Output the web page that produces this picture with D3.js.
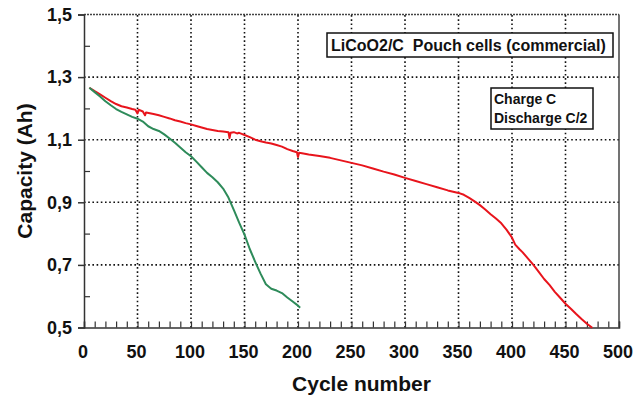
<!DOCTYPE html>
<html>
<head>
<meta charset="utf-8">
<script src="https://cdn.jsdelivr.net/npm/d3@7"></script>
<style>
html,body{margin:0;padding:0;background:#fff;}
svg{display:block;font-family:"Liberation Sans",Arial,sans-serif;}
</style>
</head>
<body>
<svg id="chart" width="643" height="397"></svg>
<script>
// ---- data ----
const redCycles = [5,10,15,20,25,30,35,40,45,48,50,51,55,57,58,65,70,75,80,85,90,95,100,105,110,115,120,125,130,135,136,137,140,143,145,148,150,155,160,165,170,175,180,185,190,195,199,200,201,205,210,220,230,240,250,260,270,280,290,300,310,320,330,340,350,355,360,365,370,375,380,385,390,395,400,403,407,410,415,420,425,430,435,440,445,450,455,460,465,470,475];
const redCap = [1.266,1.255,1.245,1.234,1.223,1.214,1.207,1.203,1.198,1.196,1.184,1.196,1.190,1.178,1.187,1.182,1.178,1.173,1.168,1.162,1.158,1.153,1.149,1.144,1.139,1.134,1.131,1.128,1.126,1.124,1.105,1.122,1.124,1.120,1.122,1.118,1.115,1.108,1.100,1.095,1.091,1.088,1.083,1.078,1.070,1.064,1.060,1.045,1.058,1.056,1.053,1.048,1.042,1.034,1.026,1.018,1.008,0.998,0.989,0.978,0.968,0.958,0.948,0.938,0.930,0.924,0.914,0.903,0.891,0.877,0.862,0.848,0.833,0.812,0.787,0.765,0.750,0.740,0.720,0.700,0.678,0.655,0.636,0.614,0.595,0.576,0.560,0.543,0.527,0.512,0.499];
const greenCycles = [5,10,15,20,25,30,35,40,45,50,55,60,65,70,75,80,85,90,95,100,105,110,115,120,125,130,135,140,145,150,155,160,165,170,175,180,185,190,195,200,202];
const greenCap = [1.266,1.252,1.238,1.223,1.210,1.198,1.189,1.181,1.173,1.167,1.158,1.143,1.134,1.128,1.117,1.104,1.090,1.075,1.060,1.047,1.030,1.012,0.994,0.980,0.964,0.944,0.915,0.876,0.835,0.797,0.750,0.710,0.672,0.638,0.624,0.618,0.610,0.596,0.583,0.570,0.563];
const xTicks = [0,50,100,150,200,250,300,350,400,450,500];
const yTicks = [0.5,0.7,0.9,1.1,1.3,1.5];
const yTickLabels = ["0,5","0,7","0,9","1,1","1,3","1,5"];
const xTitle = "Cycle number";
const yTitle = "Capacity (Ah)";
const legendTitle = "LiCoO2/C  Pouch cells (commercial)";
const legendLines = ["Charge C","Discharge C/2"];

// ---- layout ----
const svg = d3.select("#chart");
const L = 84, R = 619, T = 14.5, B = 327.5;
const x = d3.scaleLinear().domain([0,500]).range([L,R]);
const y = d3.scaleLinear().domain([0.5,1.5]).range([B,T]);

// gridlines
const grid = svg.append("g");
grid.selectAll("line.gx").data(xTicks.filter(d=>d>0&&d<500)).join("line")
  .attr("x1",d=>x(d)).attr("x2",d=>x(d)).attr("y1",B).attr("y2",T)
  .attr("stroke","#111").attr("stroke-width",1.6).attr("stroke-dasharray","1.6,2.6");
grid.selectAll("line.gy").data(yTicks.filter(d=>d>0.5&&d<1.5)).join("line")
  .attr("x1",L).attr("x2",R).attr("y1",d=>y(d)).attr("y2",d=>y(d))
  .attr("stroke","#111").attr("stroke-width",1.6).attr("stroke-dasharray","1.6,2.6");

// frame top (dense dashed) and right
svg.append("line").attr("x1",L).attr("x2",R).attr("y1",T).attr("y2",T)
  .attr("stroke","#444").attr("stroke-width",1.5).attr("stroke-dasharray","2,1");
svg.append("line").attr("x1",R).attr("x2",R).attr("y1",T).attr("y2",B)
  .attr("stroke","#444").attr("stroke-width",1.5);

// axes
const xAxis = d3.axisBottom(x).tickValues(d3.range(0,501,10)).tickSize(-6).tickFormat("");
const gx = svg.append("g").attr("transform",`translate(0,${B})`).call(xAxis);
gx.select(".domain").attr("stroke","#333").attr("stroke-width",1.5);
gx.selectAll(".tick line").attr("stroke","#333").attr("stroke-width",1.2);

svg.append("g").selectAll("text").data(xTicks).join("text")
  .attr("x",d=>x(d)-1).attr("y",358)
  .attr("text-anchor","middle").attr("font-size",18).attr("font-weight","bold").attr("fill","#111")
  .text(d=>d);

const yAxisMinor = d3.axisLeft(y).tickValues([0.6,0.8,1.0,1.2,1.4]).tickSize(-6).tickFormat("");
const gym = svg.append("g").attr("transform",`translate(${L},0)`).call(yAxisMinor);
gym.select(".domain").remove();
gym.selectAll(".tick line").attr("stroke","#333").attr("stroke-width",1.2);

const yAxis = d3.axisLeft(y).tickValues(yTicks).tickSize(6).tickPadding(6)
  .tickFormat((d,i)=>yTickLabels[i]);
const gy = svg.append("g").attr("transform",`translate(${L},0)`).call(yAxis);
gy.select(".domain").attr("stroke","#333").attr("stroke-width",1.5);
gy.selectAll(".tick line").attr("stroke","#333").attr("stroke-width",1.5);
gy.selectAll(".tick text").attr("font-size",18).attr("font-weight","bold").attr("fill","#111")
  .attr("font-family","'Liberation Sans',Arial,sans-serif");

// lines
const line = d3.line().x(d=>x(d[0])).y(d=>y(d[1]));
svg.append("path").datum(redCycles.map((c,i)=>[c,redCap[i]]))
  .attr("d",line).attr("fill","none").attr("stroke","#e8141c").attr("stroke-width",2).attr("stroke-linejoin","round");
svg.append("path").datum(greenCycles.map((c,i)=>[c,greenCap[i]]))
  .attr("d",line).attr("fill","none").attr("stroke","#2e8b5a").attr("stroke-width",2).attr("stroke-linejoin","round");

// titles
svg.append("text").attr("x",(L+R)/2+10).attr("y",391).attr("text-anchor","middle")
  .attr("font-size",21).attr("font-weight","bold").attr("fill","#111").text(xTitle);
svg.append("text").attr("transform",`translate(32,${(T+B)/2}) rotate(-90)`).attr("text-anchor","middle")
  .attr("font-size",21).attr("font-weight","bold").attr("fill","#111").text(yTitle);

// legend boxes
svg.append("rect").attr("x",327).attr("y",33).attr("width",286).attr("height",24)
  .attr("fill","#fff").attr("stroke","#111").attr("stroke-width",1.5);
svg.append("text").attr("x",331).attr("y",51).attr("font-size",16).attr("font-weight","bold").attr("fill","#111")
  .attr("xml:space","preserve").style("white-space","pre").text(legendTitle);
svg.append("rect").attr("x",491).attr("y",88).attr("width",102).attr("height",41)
  .attr("fill","#fff").attr("stroke","#111").attr("stroke-width",1.5);
svg.selectAll("text.leg").data(legendLines).join("text").attr("class","leg")
  .attr("x",494).attr("y",(d,i)=>104+i*19).attr("font-size",14).attr("font-weight","bold").attr("fill","#111")
  .text(d=>d);
</script>
</body>
</html>
